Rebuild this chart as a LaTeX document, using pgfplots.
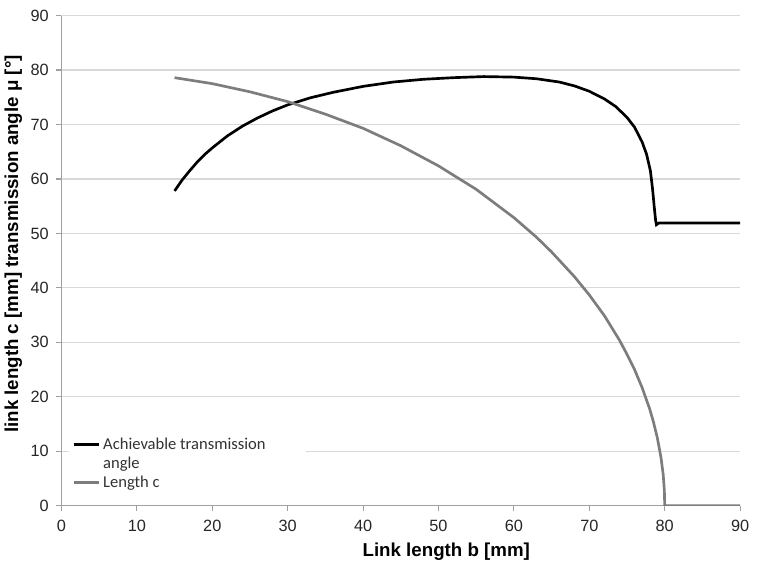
\documentclass[border=0pt]{standalone}
\usepackage{pgfplots}
\pgfplotsset{compat=1.18}
\usepackage{fontspec}
\setmainfont{Liberation Sans}
\newfontfamily\legfont{Carlito}
\definecolor{gridgray}{RGB}{217,217,217}
\definecolor{axisgray}{RGB}{160,160,160}
\definecolor{cgray}{RGB}{125,125,125}

\begin{document}
\begin{tikzpicture}
\begin{axis}[
  scale only axis,
  width=507.75pt, height=366.75pt,
  xmin=0, xmax=90, ymin=0, ymax=90,
  xtick={0,10,...,90}, ytick={0,10,...,90},
  axis x line*=bottom, axis y line*=left,
  axis line style={axisgray, line width=0.8pt, -},
  tick style={axisgray, line width=0.8pt},
  tick align=outside, major tick length=4pt,
  ymajorgrids, grid style={gridgray, line width=0.8pt},
  /pgf/number format/assume math mode=true,
  ticklabel style={font=\fontsize{12.2}{14}\selectfont, text=black!85},
  xticklabel style={yshift=-3pt},
  yticklabel style={xshift=-2pt},
  xlabel={\textbf{Link length b [mm]}},
  ylabel={\textbf{link length c [mm] transmission angle μ [°]}},
  label style={font=\fontsize{14}{16}\selectfont},
  xlabel style={at={(axis description cs:0.567,0)}, anchor=north, yshift=-24pt},
  ylabel style={at={(axis description cs:0,0.534)}, anchor=south, yshift=26pt},
  legend cell align=left,
  legend style={at={(axis cs:1.0,2.0)}, anchor=south west, draw=none, fill=white,
    font=\legfont\fontsize{12.4}{15.5}\selectfont, text=black!80,
    row sep=0pt, inner sep=2pt},
  legend image code/.code={\draw[#1, line width=2.4pt] (0pt,0pt) -- (19pt,0pt);},
  every axis legend/.append style={nodes={inner sep=2pt}},
]
\addplot[black, line width=2pt] coordinates {
(15,57.8)(16,59.8)(17,61.5)(18,63.1)(19,64.5)(20,65.7)(22,67.9)(24,69.7)
(26,71.2)(28,72.5)(30,73.6)(33,74.9)(36,75.9)(40,77.0)(44,77.8)(48,78.3)
(52,78.6)(56,78.8)(60,78.7)(63,78.4)(66,77.8)(68,77.1)(70,76.1)(72,74.7)
(73.5,73.3)(75,71.3)(76,69.5)(77,66.8)(77.6,64.5)(78.1,61.5)(78.4,58.0)
(78.6,55.0)(78.8,52.3)(78.9,51.6)(79.2,51.9)(80,51.9)(90,51.9)
};
\addlegendentry{\makebox[148pt][l]{Achievable transmission}}
\addlegendimage{empty legend}
\addlegendentry{angle}
\addplot[cgray, line width=2pt] coordinates {
(15,78.6)(20,77.5)(25,76.0)(30,74.2)(35,71.9)(40,69.3)(45,66.1)(50,62.4)
(55,58.1)(60,52.9)(63,49.3)(65,46.6)(68,42.1)(70,38.7)(72,34.9)(74,30.4)
(75,27.8)(76,25.0)(77,21.7)(78,17.8)(78.5,15.4)(79,12.6)(79.5,8.9)
(79.8,5.7)(79.95,2.8)(80,0)(90,0)
};
\addlegendentry{Length c}
\end{axis}
\path ([xshift=4pt]current axis.outer east) ([yshift=-2pt]current axis.outer south)
  ([yshift=4pt]current axis.outer north);
\end{tikzpicture}
\end{document}
